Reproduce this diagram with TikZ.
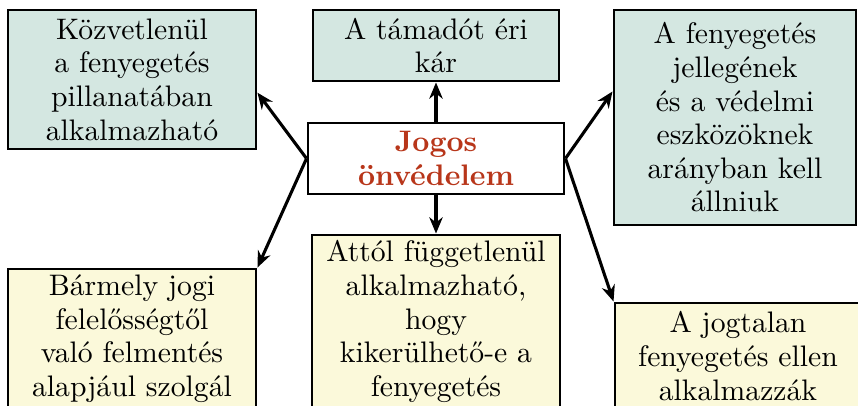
\documentclass[tikz,border=0pt]{standalone}
\usetikzlibrary{arrows.meta}
\definecolor{boxteal}{HTML}{D4E7E1}
\definecolor{boxyellow}{HTML}{FBF9DA}
\definecolor{titlered}{HTML}{B8361A}
\begin{document}
\begin{tikzpicture}[x=0.35714pt,y=-0.35714pt,
  box/.style={draw=black, line width=1.05pt, align=center, inner sep=0pt, font=\fontsize{10.6}{12}\selectfont},
  tealbox/.style={box, fill=boxteal},
  yellowbox/.style={box, fill=boxyellow},
  arr/.style={line width=1.1pt, -{Stealth[length=5.8pt,width=4.8pt]}}]
\useasboundingbox (0,0) rectangle (858,406);
\clip (0,0) rectangle (858,406);
\node[tealbox, minimum width=88.57pt, minimum height=49.64pt] (tl) at (132,79.5)
  {Közvetlenül\\a fenyegetés\\pillanatában\\alkalmazható};
\node[tealbox, minimum width=87.86pt, minimum height=25.36pt] (tc) at (436,45.5)
  {A támadót éri\\kár};
\node[tealbox, minimum width=86.43pt, minimum height=76.79pt] (tr) at (735,117.5)
  {A fenyegetés\\jellegének\\és a védelmi\\eszközöknek\\arányban kell\\állniuk};
\node[box, fill=white, minimum width=91.43pt, minimum height=25.36pt, font=\fontsize{10.6}{12}\selectfont\bfseries, text=titlered] (c) at (436,158.5)
  {Jogos\\önvédelem};
\node[yellowbox, minimum width=88.57pt, minimum height=49.64pt] (bl) at (132,338.5)
  {Bármely jogi\\felelősségtől\\való felmentés\\alapjául szolgál};
\node[yellowbox, minimum width=88.57pt, minimum height=61.79pt] (bc) at (436,321.5)
  {Attól függetlenül\\alkalmazható,\\hogy\\kikerülhető-e a\\fenyegetés};
\node[yellowbox, minimum width=87.86pt, minimum height=37.86pt] (br) at (738,356)
  {A jogtalan\\fenyegetés ellen\\alkalmazzák};
\draw[arr] (c.north) -- (tc.south);
\draw[arr] (c.south) -- (bc.north);
\draw[arr] (c.west) -- (tl.-6.2);
\draw[arr] (c.west) -- (bl.north east);
\draw[arr] (c.east) -- (tr.168.6);
\draw[arr] (c.east) -- (br.north west);
\end{tikzpicture}
\end{document}
